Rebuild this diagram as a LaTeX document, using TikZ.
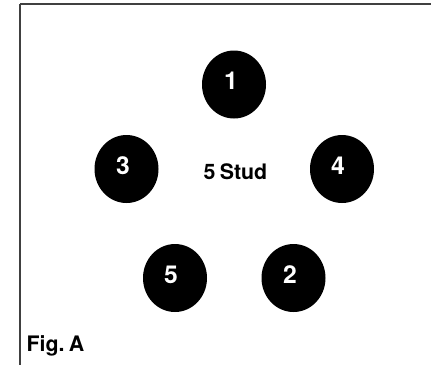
\documentclass[tikz,border=0pt]{standalone}
\usepackage{fontspec}
\setmainfont{TeX Gyre Heros}
\usetikzlibrary{shapes.geometric}
\tikzset{stud/.style={ellipse,fill=black,minimum width=48pt,minimum height=51pt,inner sep=0pt},
digit/.style={text=white,inner sep=0pt,font=\fontsize{18.5pt}{20pt}\selectfont\bfseries},
lab/.style={text=black,inner sep=0pt,font=\fontsize{16pt}{18pt}\selectfont\bfseries}}
\begin{document}
\begin{tikzpicture}[x=0.75pt,y=-0.75pt]
\useasboundingbox (0,0) rectangle (431,364);
\fill[white] (0,0) rectangle (431,364);
\draw[black!75,line width=0.9pt] (20,4) -- (432,4) (20,4) -- (20,366);
\node[stud] (s1) at (234,84.5) {};
\node[stud] (s3) at (126.5,169) {};
\node[stud] (s4) at (342,169) {};
\node[stud] (s5) at (175,278) {};
\node[stud] (s2) at (293.5,278) {};
\node[digit] (n1) at (231,81) {1};
\node[digit] (n3) at (123,166) {3};
\node[digit] (n4) at (338,166) {4};
\node[digit] (n5) at (171,275) {5};
\node[digit] (n2) at (290,275) {2};
\node[lab] (c) at (235.5,172) {5\hskip0.2em Stud};
\node[lab] (f) at (55.5,346) {Fig.\hskip0.2em A};
\end{tikzpicture}
\end{document}
